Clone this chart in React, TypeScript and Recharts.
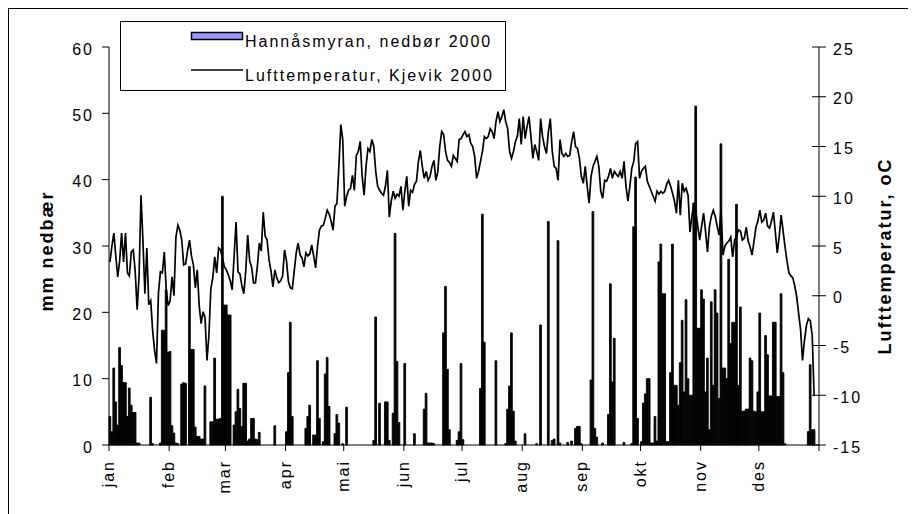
import { ComposedChart, Bar, Line, XAxis, YAxis, Legend } from 'recharts'

const FONT = '"Liberation Sans", Arial, Helvetica, sans-serif'

// daily precipitation, mm (Hannåsmyran 2000)
const precipJan = [
  4.3, 2.0, 11.6, 6.5, 3.0, 14.7, 12.0, 9.4, 9.4, 4.3,
  8.6, 6.0, 4.9, 4.9, 0.3, 0.3, 0, 0, 0, 0,
  0, 7.2, 0.2, 0, 0, 0, 0.3, 17.3, 17.3, 23.4,
  14.0,
]
const precipFeb = [
  14.1, 2.9, 1.8, 0.3, 0.2, 0, 9.2, 9.4, 9.3, 0,
  26.9, 14.4, 14.4, 2.7, 1.3, 1.3, 0.9, 0.9, 8.9, 0,
  0, 3.5, 3.5, 13.1, 3.9, 3.9, 4.0, 37.5, 21.1,
]
const precipMar = [
  21.1, 19.6, 19.6, 0, 3.0, 5.0, 8.4, 5.5, 2.8, 9.3,
  9.3, 0.6, 0.9, 4.0, 4.0, 0.9, 0.8, 1.9, 0, 0,
  0, 0, 0, 0, 0, 2.9, 0, 0, 0, 0,
  0,
]
const precipApr = [
  2.0, 10.9, 18.5, 4.3, 0, 0, 0, 0, 0, 0,
  2.5, 4.3, 6.0, 0, 1.5, 1.5, 12.7, 4.0, 0, 0.5,
  10.7, 13.2, 5.8, 0, 0, 1.7, 4.6, 3.3, 0, 0.2,
]
const precipMai = [
  0, 5.7, 0, 0, 0, 0, 0, 0, 0, 0,
  0, 0, 0, 0, 0, 0.7, 19.3, 0, 6.3, 0,
  0, 6.5, 6.5, 0.7, 0, 4.8, 31.9, 12.6, 3.4, 0,
  0,
]
const precipJun = [
  12.3, 0, 0, 0, 0, 1.7, 0, 0, 0, 0,
  5.4, 7.8, 0.3, 0.3, 0.3, 0.2, 0, 0, 0, 0,
  16.9, 23.9, 11.4, 2.3, 0, 0, 0, 0.7, 2.0, 12.3,
]
const precipJul = [
  0.8, 0, 0, 0, 0, 0, 0, 0, 0, 8.5,
  34.8, 15.5, 0, 0, 0, 0, 0, 12.7, 0, 0,
  0, 0, 0.2, 5.4, 8.9, 16.9, 5.1, 0.6, 0, 0,
  0,
]
const precipAug = [
  0, 1.7, 0, 0, 0, 0, 0, 0.2, 0, 18.1,
  0, 0, 0, 33.7, 0, 0.7, 0.9, 0, 30.8, 0.3,
  0, 0, 0, 0.4, 0, 0.6, 0, 2.5, 2.8, 2.8,
  0.2,
]
const precipSep = [
  0, 0, 0, 0, 9.8, 35.2, 2.5, 1.2, 0, 0,
  0.3, 0, 0, 4.6, 24.3, 9.5, 16.1, 0, 0, 0,
  0, 0.4, 0, 0, 0, 0.2, 32.9, 40.4, 4.0, 0,
]
const precipOkt = [
  0.5, 6.3, 7.7, 10.0, 10.0, 0.3, 0.3, 4.3, 0.6, 27.6,
  30.3, 22.8, 22.8, 0.5, 0.5, 10.9, 30.3, 9.0, 9.0, 6.0,
  12.4, 18.8, 8.0, 21.9, 10.0, 7.5, 7.5, 36.5, 51.1, 17.6,
  17.6,
]
const precipNov = [
  23.4, 22.0, 8.0, 13.1, 2.3, 21.6, 9.0, 23.4, 19.9, 7.0,
  45.4, 11.6, 11.6, 10.0, 28.0, 15.3, 18.5, 18.5, 36.3, 9.0,
  20.8, 5.1, 5.1, 5.4, 5.4, 13.1, 12.7, 5.1, 5.0, 8.0,
]
const precipDes = [
  19.9, 5.0, 5.0, 16.5, 13.6, 7.4, 7.4, 18.5, 18.5, 7.3,
  7.3, 22.8, 10.9, 0.2, 0, 0, 0, 0, 0, 0,
  0, 0, 0, 0, 0, 2.0, 12.1, 2.3, 2.3, 0,
  0,
]

// daily air temperature, °C (Kjevik 2000)
const tempJan = [
  3.4, 5.0, 6.3, 4.0, 1.9, 3.5, 6.3, 3.4, 6.3, 2.3,
  2.0, 4.4, 4.6, 2.5, -1.4, 2.0, 10.1, 5.5, 0.2, 4.8,
  -0.9, -0.5, -3.5, -5.5, -6.8, 0.3, 2.4, 2.3, 4.4, 0.6,
  -1.0,
]
const tempFeb = [
  -0.5, 1.9, 0.0, 5.9, 7.1, 6.6, 5.6, 3.1, 3.2, 4.5,
  5.6, 4.0, 3.1, 0.8, 2.6, -1.0, -2.8, -1.6, -2.2, -6.5,
  -4.0, 0.7, 1.8, 3.9, 2.3, 4.8, 4.6, 3.8, 2.9,
]
const tempMar = [
  2.6, 2.1, 1.5, 0.6, 4.0, 7.4, 2.4, 2.2, 1.0, 0.2,
  2.5, 6.1, 3.5, 2.9, 1.3, 1.3, 3.0, 5.3, 4.5, 8.4,
  6.0, 5.6, 3.6, 2.5, 0.9, 2.6, 1.8, 1.3, 1.5, 2.0,
  4.6,
]
const tempApr = [
  3.5, 1.4, 0.8, 0.7, 2.5, 4.3, 5.3, 4.1, 3.8, 2.9,
  4.3, 4.0, 4.2, 5.1, 4.0, 2.8, 5.0, 6.6, 7.0, 7.1,
  7.8, 8.6, 8.2, 7.5, 6.6, 9.0, 9.3, 13.0, 17.2, 15.7,
]
const tempMai = [
  9.0, 10.0, 10.6, 10.8, 12.1, 10.6, 14.1, 14.5, 15.5, 12.0,
  10.1, 13.0, 14.8, 14.5, 15.7, 15.0, 12.5, 11.0, 10.6, 10.3,
  10.1, 11.0, 12.6, 7.9, 9.5, 10.5, 9.8, 10.2, 10.0, 11.0,
  8.6,
]
const tempJun = [
  10.5, 12.0, 9.0, 10.6, 10.4, 11.2, 11.5, 13.5, 14.6, 13.0,
  11.8, 12.5, 11.6, 12.0, 13.0, 13.6, 11.6, 12.5, 15.0, 16.5,
  16.2, 14.5, 13.6, 13.4, 13.0, 14.1, 13.8, 13.5, 15.7, 15.8,
]
const tempJul = [
  16.2, 16.5, 16.0, 16.2, 15.3, 15.0, 14.0, 11.8, 12.5, 13.5,
  14.5, 16.0, 15.8, 16.0, 16.8, 16.5, 15.8, 17.5, 18.5, 17.5,
  18.0, 18.7, 17.5, 16.8, 14.5, 13.8, 14.5, 15.5, 16.0, 17.8,
  15.2,
]
const tempAug = [
  18.0, 15.8, 17.0, 18.0, 16.0, 13.8, 15.2, 14.5, 13.6, 17.8,
  16.0, 15.0, 14.3, 16.5, 17.8, 14.5, 13.0, 12.8, 11.6, 15.7,
  14.3, 14.0, 14.3, 14.0, 14.1, 15.5, 16.5, 15.0, 14.8, 13.8,
  12.0,
]
const tempSep = [
  11.3, 13.0, 11.0, 9.3, 12.0, 13.0, 13.5, 14.0, 13.0, 10.5,
  9.8, 11.6, 11.5, 12.0, 12.8, 11.8, 12.5, 12.2, 12.0, 12.5,
  11.8, 13.5, 11.0, 9.5, 11.0, 12.8, 13.5, 15.3, 15.5, 11.8,
]
const tempOkt = [
  12.5, 12.8, 13.0, 11.5, 11.0, 10.5, 10.0, 9.5, 10.5, 10.2,
  10.5, 10.3, 10.5, 11.2, 11.6, 11.0, 10.3, 9.5, 8.3, 11.6,
  8.1, 11.3, 10.5, 10.8, 10.1, 6.4, 8.0, 9.3, 8.5, 7.0,
  5.6,
]
const tempNov = [
  7.0, 8.3, 6.5, 4.4, 6.9, 8.0, 8.6, 8.0, 7.0, 6.1,
  8.6, 4.1, 5.0, 5.3, 5.5, 5.9, 3.9, 5.6, 6.0, 6.6,
  6.5, 5.6, 5.8, 6.9, 5.5, 4.9, 4.1, 5.5, 6.9, 7.5,
]
const tempDes: (number | null)[] = [
  8.6, 7.4, 7.6, 8.3, 7.0, 6.8, 7.5, 8.4, 6.4, 4.3,
  6.0, 8.1, 6.5, 4.9, 3.5, 2.3, 2.0, 1.8, 1.0, -0.1,
  -1.8, -3.4, -6.5, -4.5, -3.0, -2.3, -2.5, -4.0, -10.1, null,
  null,
]

const monthNames = ['jan', 'feb', 'mar', 'apr', 'mai', 'jun', 'jul', 'aug', 'sep', 'okt', 'nov', 'des']
const monthStarts = [0, 31, 60, 91, 121, 152, 182, 213, 244, 274, 305, 335]
const xTicks = [...monthStarts, 366]
const precipTicks = [0, 10, 20, 30, 40, 50, 60]
const tempTicks = [-15, -10, -5, 0, 5, 10, 15, 20, 25]

const precip = [
  ...precipJan, ...precipFeb, ...precipMar, ...precipApr, ...precipMai, ...precipJun,
  ...precipJul, ...precipAug, ...precipSep, ...precipOkt, ...precipNov, ...precipDes,
]
const temp: (number | null)[] = [
  ...tempJan, ...tempFeb, ...tempMar, ...tempApr, ...tempMai, ...tempJun,
  ...tempJul, ...tempAug, ...tempSep, ...tempOkt, ...tempNov, ...tempDes,
]

const data = precip.map((p, i) => ({ day: i + 0.5, p, t: temp[i] ?? null }))

const textStyle = { fontFamily: FONT, fontSize: 16, letterSpacing: 2, fill: '#000' }

function LeftTick(props: any) {
  const { x, y, payload } = props
  return (
    <text x={x} y={y + 7.5} textAnchor="end" {...textStyle}>
      {payload.value}
    </text>
  )
}

function RightTick(props: any) {
  const { x, y, payload } = props
  return (
    <g>
      <line x1={x - 21} x2={x - 7} y1={y} y2={y} stroke="#000" />
      <text x={x} y={y + 7.5} textAnchor="start" {...textStyle}>
        {payload.value}
      </text>
    </g>
  )
}

function MonthTick(props: any) {
  const { x, y, payload } = props
  const idx = monthStarts.indexOf(payload.value)
  if (idx < 0) return <g />
  return (
    <text x={x} y={y} dy={5} textAnchor="end" transform={`rotate(-90, ${x}, ${y})`} {...textStyle}>
      {monthNames[idx]}
    </text>
  )
}

const titleStyle = { fontFamily: FONT, fontSize: 18, fontWeight: 700, letterSpacing: 2, fill: '#000' }

const renderLegend = () => (
  <svg width={387} height={71} style={{ display: 'block' }}>
    <rect x={0.5} y={0.5} width={385} height={69} fill="#fff" stroke="#000" />
    <rect x={71.5} y={11.5} width={51} height={7} fill="#9999FF" stroke="#000" strokeWidth={1.5} />
    <text x={125} y={25.5} {...textStyle}>Hannåsmyran, nedbør 2000</text>
    <line x1={71} x2={123} y1={49} y2={49} stroke="#000" strokeWidth={1.5} />
    <text x={125} y={59.5} {...textStyle}>Lufttemperatur, Kjevik 2000</text>
  </svg>
)

export default function App() {
  return (
    <div
      style={{
        position: 'relative',
        width: 908,
        height: 506,
        borderLeft: '1px solid #000',
        borderTop: '1px solid #000',
        boxSizing: 'border-box',
        overflow: 'hidden',
      }}
    >
      <style>{'html,body{overflow:hidden}'}</style>
      <div style={{ position: 'absolute', left: 0, top: 0 }}>
        <ComposedChart
          width={899}
          height={497}
          data={data}
          margin={{ top: 38, right: 29, bottom: 21, left: 40 }}
          style={{ fontFamily: FONT }}
        >
          <XAxis
            dataKey="day"
            type="number"
            domain={[0, 366]}
            ticks={xTicks}
            interval={0}
            height={40}
            tickSize={6}
            tickMargin={9}
            axisLine={{ stroke: '#000' }}
            tickLine={{ stroke: '#000' }}
            tick={<MonthTick />}
          />
          <YAxis
            yAxisId="left"
            orientation="left"
            domain={[0, 60]}
            ticks={precipTicks}
            interval={0}
            width={60}
            tickSize={7}
            tickMargin={8}
            axisLine={{ stroke: '#000' }}
            tickLine={{ stroke: '#000' }}
            tick={<LeftTick />}
            label={() => (
              <text x={44} y={242} transform="rotate(-90, 44, 242)" textAnchor="middle" {...titleStyle}>
                mm nedbær
              </text>
            )}
          />
          <YAxis
            yAxisId="right"
            orientation="right"
            domain={[-15, 25]}
            ticks={tempTicks}
            interval={0}
            width={60}
            tickSize={7}
            tickMargin={7}
            axisLine={{ stroke: '#000' }}
            tickLine={false}
            tick={<RightTick />}
            label={() => (
              <text x={882} y={247} transform="rotate(-90, 882, 247)" textAnchor="middle" {...titleStyle}>
                Lufttemperatur, oC
              </text>
            )}
          />
          <Legend
            layout="vertical"
            align="center"
            verticalAlign="middle"
            content={renderLegend}
            wrapperStyle={{ left: 111, top: 12, width: 387, height: 71 }}
          />
          <Bar
            yAxisId="left"
            dataKey="p"
            name="Hannåsmyran, nedbør 2000"
            fill="#000"
            stroke="#000"
            strokeWidth={0.9}
            barSize={2}
            isAnimationActive={false}
          />
          <Line
            yAxisId="right"
            dataKey="t"
            name="Lufttemperatur, Kjevik 2000"
            type="linear"
            stroke="#000"
            strokeWidth={1.7}
            dot={false}
            activeDot={false}
            connectNulls={false}
            isAnimationActive={false}
          />
        </ComposedChart>
      </div>
    </div>
  )
}
